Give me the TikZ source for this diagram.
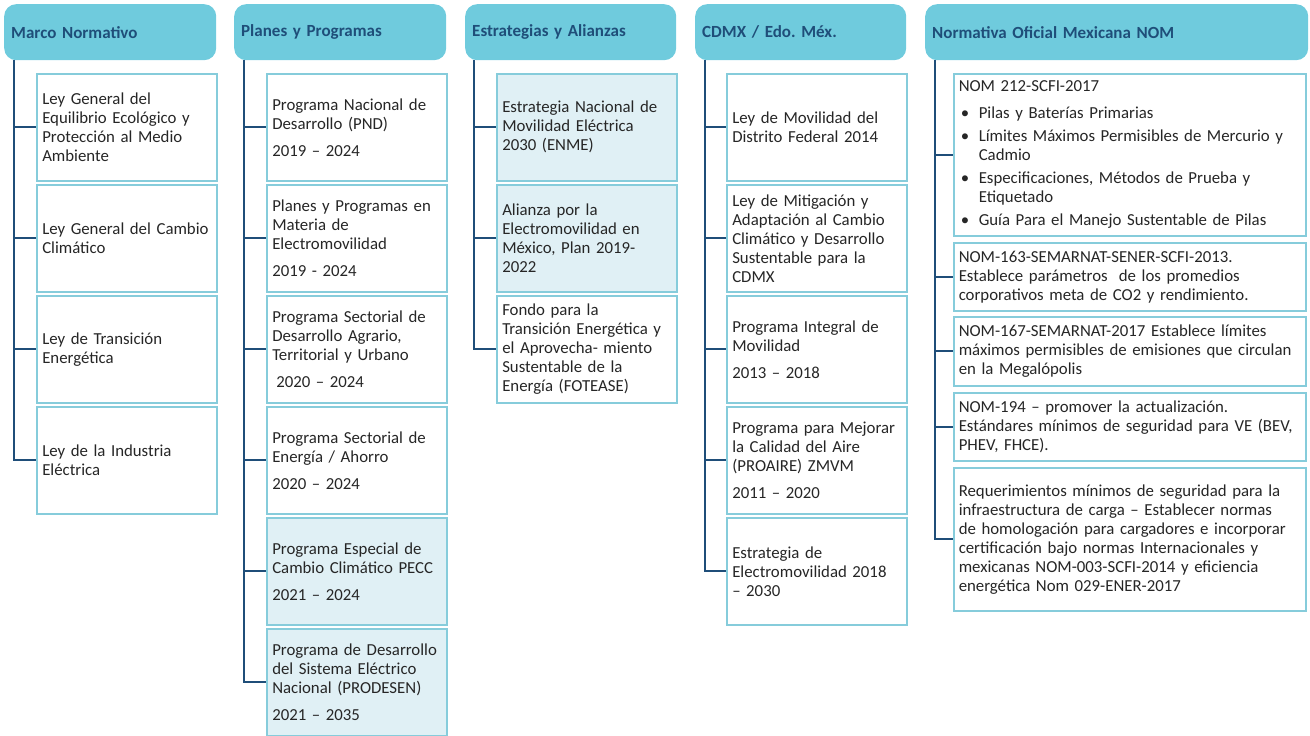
\documentclass[tikz,border=0pt]{standalone}
\usepackage{fontspec}
\setmainfont{Carlito}
\frenchspacing
\hyphenpenalty=10000
\exhyphenpenalty=10000
\definecolor{hdrfill}{HTML}{6FCBDD}
\definecolor{hdrtext}{HTML}{1F4E79}
\definecolor{itemline}{HTML}{86CCDB}
\definecolor{shade}{HTML}{E0F0F5}
\definecolor{treecol}{HTML}{1F4E79}
\definecolor{bodytext}{HTML}{262626}
\newcommand{\bul}{\makebox[20pt][l]{\hspace{2pt}•}}
\newcommand{\ind}{\hspace*{20pt}}
\begin{document}
\begin{tikzpicture}[x=1pt,y=-1pt,
  hdr/.style={fill=hdrfill, rounded corners=12pt, minimum height=56pt, anchor=north west,
    text=hdrtext, font=\fontsize{17}{19}\selectfont\bfseries, align=left, inner xsep=7pt, inner ysep=0pt},
  itembox/.style={draw=itemline, line width=1.5pt, fill=white, anchor=north west, align=left,
    inner xsep=5.5pt, inner ysep=0pt, minimum height=107pt, text width=169pt,
    text=bodytext, font=\fontsize{16.8}{19}\selectfont},
  widebox/.style={itembox, inner xsep=5pt, text width=342pt},
  shaded/.style={fill=shade},
  tree/.style={draw=treecol, line width=2pt}]
\useasboundingbox (0,0) rectangle (1310,736);
% headers
\node[hdr, text width=198pt] (h1) at (4,4) {Marco Normativo};
\node[hdr, text width=198pt] (h2) at (234,4) {Planes y Programas};
\node[hdr, text width=197pt] (h3) at (465,4) {Estrategias y Alianzas};
\node[hdr, text width=197pt] (h4) at (695,4) {CDMX / Edo. Méx.};
\node[hdr, text width=369pt] (h5) at (925,4) {Normativa Oficial Mexicana NOM};
% column 1
\node[itembox] (c11) at (36,73) {Ley General del\\Equilibrio Ecológico y\\Protección al Medio\\Ambiente};
\node[itembox] (c12) at (36,184) {Ley General del Cambio\\Climático};
\node[itembox] (c13) at (36,295) {Ley de Transición\\Energética};
\node[itembox] (c14) at (36,406) {Ley de la Industria\\Eléctrica};
% column 2
\node[itembox] (c21) at (266,73) {Programa Nacional de\\Desarrollo (PND)\\[8pt]2019 – 2024};
\node[itembox] (c22) at (266,184) {Planes y Programas en\\Materia de\\Electromovilidad\\[8pt]2019 - 2024};
\node[itembox] (c23) at (266,295) {Programa Sectorial de\\Desarrollo Agrario,\\Territorial y Urbano\\[8pt]\hspace*{4pt}2020 – 2024};
\node[itembox] (c24) at (266,406) {Programa Sectorial de\\Energía / Ahorro\\[8pt]2020 – 2024};
\node[itembox, shaded] (c25) at (266,517) {Programa Especial de\\Cambio Climático PECC\\[8pt]2021 – 2024};
\node[itembox, shaded] (c26) at (266,628) {Programa de Desarrollo\\del Sistema Eléctrico\\Nacional (PRODESEN)\\[8pt]2021 – 2035};
% column 3
\node[itembox, shaded] (c31) at (496,73) {Estrategia Nacional de\\Movilidad Eléctrica\\2030 (ENME)};
\node[itembox, shaded] (c32) at (496,184) {Alianza por la\\Electromovilidad en\\México, Plan 2019-\\2022};
\node[itembox] (c33) at (496,295) {Fondo para la\\Transición Energética y\\el Aprovecha- miento\\Sustentable de la\\Energía (FOTEASE)};
% column 4
\node[itembox] (c41) at (726,73) {Ley de Movilidad del\\Distrito Federal 2014};
\node[itembox] (c42) at (726,184) {Ley de Mitigación y\\Adaptación al Cambio\\Climático y Desarrollo\\Sustentable para la\\CDMX};
\node[itembox] (c43) at (726,295) {Programa Integral de\\Movilidad\\[8pt]2013 – 2018};
\node[itembox] (c44) at (726,406) {Programa para Mejorar\\la Calidad del Aire\\(PROAIRE) ZMVM\\[8pt]2011 – 2020};
\node[itembox] (c45) at (726,517) {Estrategia de\\Electromovilidad 2018\\– 2030};
% column 5
\node[widebox, minimum height=162pt] (c51) at (953,73) {NOM 212-SCFI-2017\\[8pt]\bul Pilas y Baterías Primarias\\[4pt]\bul Límites Máximos Permisibles de Mercurio y\\\ind Cadmio\\[4pt]\bul Especificaciones, Métodos de Prueba y\\\ind Etiquetado\\[4pt]\bul Guía Para el Manejo Sustentable de Pilas};
\node[widebox, minimum height=68pt] (c52) at (953,242) {NOM-163-SEMARNAT-SENER-SCFI-2013.\\Establece parámetros\ \ de los promedios\\corporativos meta de CO2 y rendimiento.};
\node[widebox, minimum height=69pt] (c53) at (953,316) {NOM-167-SEMARNAT-2017 Establece límites\\máximos permisibles de emisiones que circulan\\en la Megalópolis};
\node[widebox, minimum height=68pt] (c54) at (953,392) {NOM-194 – promover la actualización.\\Estándares mínimos de seguridad para VE (BEV,\\PHEV, FHCE).};
\node[widebox, minimum height=143pt] (c55) at (953,467) {Requerimientos mínimos de seguridad para la\\infraestructura de carga – Establecer normas\\de homologación para cargadores e incorporar\\certificación bajo normas Internacionales y\\mexicanas NOM-003-SCFI-2014 y eficiencia\\energética Nom 029-ENER-2017};
% tree lines
\coordinate (t1) at ([xshift=10pt]h1.south west);
\coordinate (t2) at ([xshift=10pt]h2.south west);
\coordinate (t3) at ([xshift=9pt]h3.south west);
\coordinate (t4) at ([xshift=10pt]h4.south west);
\coordinate (t5) at ([xshift=10pt]h5.south west);
\draw[tree] (t1) |- (c14.west);
\foreach \c in {c11,c12,c13} \draw[tree] (t1 |- \c.west) -- (\c.west);
\draw[tree] (t2) |- (c26.west);
\foreach \c in {c21,c22,c23,c24,c25} \draw[tree] (t2 |- \c.west) -- (\c.west);
\draw[tree] (t3) |- (c33.west);
\foreach \c in {c31,c32} \draw[tree] (t3 |- \c.west) -- (\c.west);
\draw[tree] (t4) |- (c45.west);
\foreach \c in {c41,c42,c43,c44} \draw[tree] (t4 |- \c.west) -- (\c.west);
\draw[tree] (t5) |- (c55.west);
\foreach \c in {c51,c52,c53,c54} \draw[tree] (t5 |- \c.west) -- (\c.west);
\end{tikzpicture}
\end{document}
